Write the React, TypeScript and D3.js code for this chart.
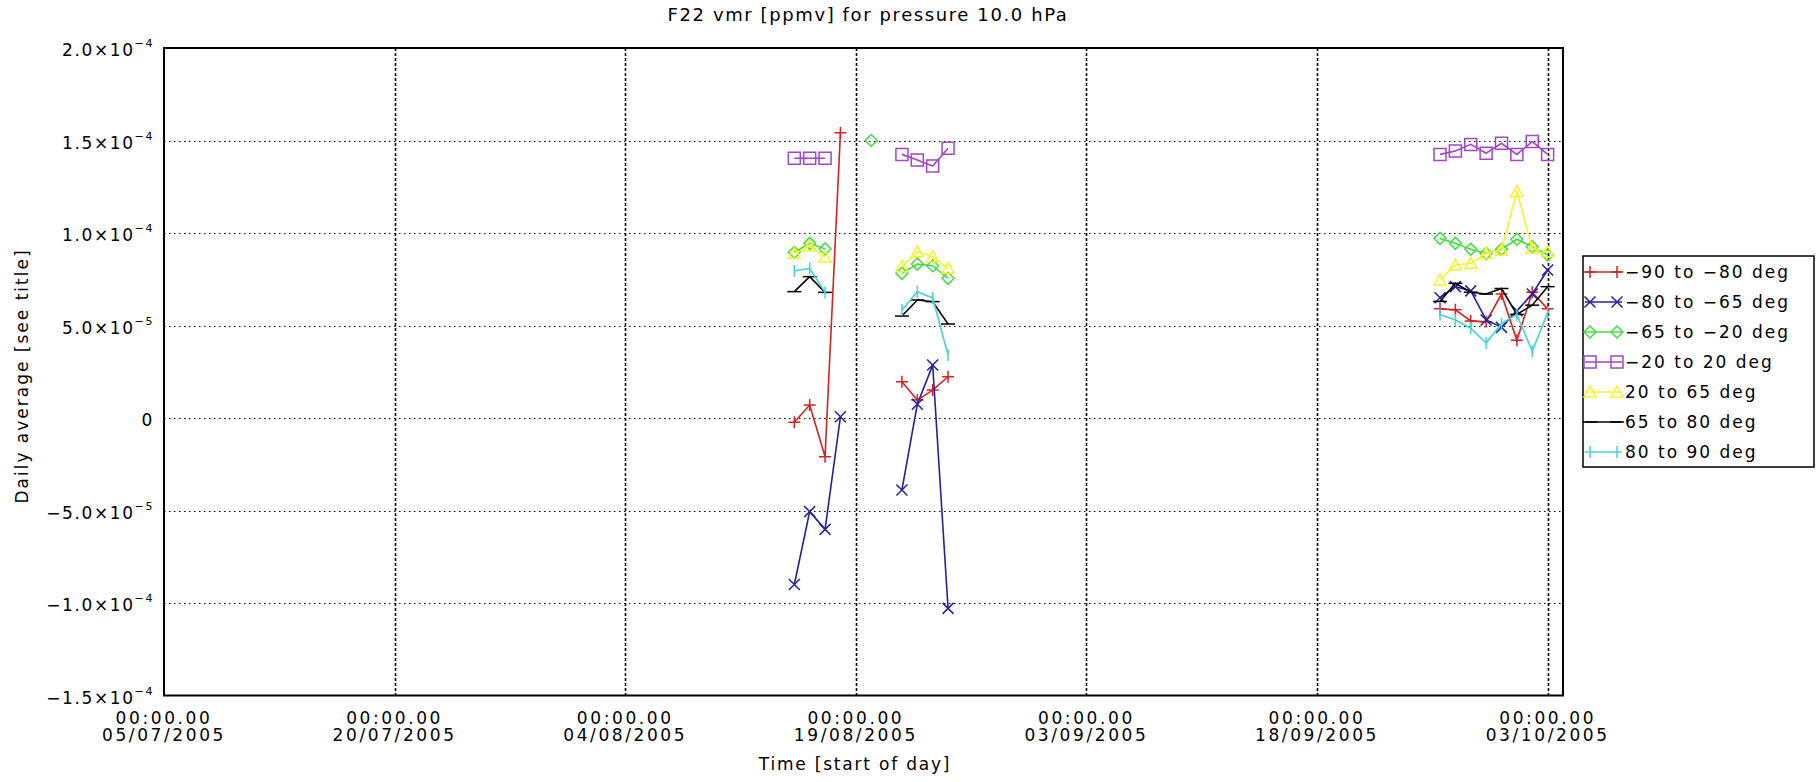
import { useEffect, useRef } from "react";
import * as d3 from "d3";

const W = 1816,
  H = 782;
const plot = { left: 164, top: 48, right: 1563, bottom: 695.5 };

// days that have data (lines break where a day is missing)
const days = [
  "2005-08-15", "2005-08-16", "2005-08-17", "2005-08-18", "2005-08-20",
  "2005-08-22", "2005-08-23", "2005-08-24", "2005-08-25",
  "2005-09-26", "2005-09-27", "2005-09-28", "2005-09-29", "2005-09-30",
  "2005-10-01", "2005-10-02", "2005-10-03",
];

// daily averages, ppmv
const lat90to80S = [-2.3e-6, 7.0e-6, -2.09e-5, 1.542e-4, null, 1.96e-5, 9.7e-6, 1.51e-5, 2.23e-5, 5.9e-5, 5.85e-5, 5.25e-5, 5.2e-5, 6.7e-5, 4.2e-5, 6.8e-5, 5.9e-5];
const lat80to65S = [-9.0e-5, -5.06e-5, -6.02e-5, 7e-7, null, -3.89e-5, 7.4e-6, 2.86e-5, -1.029e-4, 6.5e-5, 7.1e-5, 6.87e-5, 5.3e-5, 4.9e-5, 5.8e-5, 6.7e-5, 8.0e-5];
const lat65to20S = [8.96e-5, 9.44e-5, 9.14e-5, null, 1.5e-4, 7.82e-5, 8.32e-5, 8.23e-5, 7.55e-5, 9.71e-5, 9.44e-5, 9.12e-5, 8.9e-5, 9.12e-5, 9.66e-5, 9.26e-5, 8.81e-5];
const lat20Sto20N = [1.404e-4, 1.404e-4, 1.404e-4, null, null, 1.425e-4, 1.395e-4, 1.362e-4, 1.458e-4, 1.425e-4, 1.443e-4, 1.479e-4, 1.431e-4, 1.485e-4, 1.425e-4, 1.494e-4, 1.425e-4];
const lat20to65N = [8.9e-5, 9.3e-5, 8.7e-5, null, null, 8.18e-5, 8.99e-5, 8.72e-5, 8.09e-5, 7.46e-5, 8.27e-5, 8.36e-5, 8.9e-5, 9.08e-5, 1.225e-4, 9.17e-5, 8.99e-5];
const lat65to80N = [6.83e-5, 7.64e-5, 6.79e-5, null, null, 5.51e-5, 6.38e-5, 6.29e-5, 5.08e-5, 6.3e-5, 7.28e-5, 6.8e-5, 6.7e-5, 7.0e-5, 5.6e-5, 6.1e-5, 7.1e-5];
const lat80to90N = [7.95e-5, 8.09e-5, 6.79e-5, null, null, 5.84e-5, 6.83e-5, 6.49e-5, 3.4e-5, 5.6e-5, 5.3e-5, 4.85e-5, 4.05e-5, 5.1e-5, 5.6e-5, 3.6e-5, 5.7e-5];

const seriesNames = [
  "\u221290 to \u221280 deg",
  "\u221280 to \u221265 deg",
  "\u221265 to \u221220 deg",
  "\u221220 to 20 deg",
  "20 to 65 deg",
  "65 to 80 deg",
  "80 to 90 deg",
];
const seriesValues = [lat90to80S, lat80to65S, lat65to20S, lat20Sto20N, lat20to65N, lat65to80N, lat80to90N];
const seriesColors = ["#d42222", "#22229c", "#44dd44", "#a046c8", "#f4f42a", "#000000", "#44d4d4"];
const seriesSymbols = ["plus", "cross", "diamond", "square", "triangle", "hbar", "vbar"];

const yTickValues = [-1.5e-4, -1.0e-4, -5.0e-5, 0, 5.0e-5, 1.0e-4, 1.5e-4, 2.0e-4];
const yTickLabels = ["\u22121.5\u00d710^\u22124", "\u22121.0\u00d710^\u22124", "\u22125.0\u00d710^\u22125", "0", "5.0\u00d710^\u22125", "1.0\u00d710^\u22124", "1.5\u00d710^\u22124", "2.0\u00d710^\u22124"];
const xTickDates = ["2005-07-05", "2005-07-20", "2005-08-04", "2005-08-19", "2005-09-03", "2005-09-18", "2005-10-03"];
const xTickTime = "00:00.00";

const title = "F22 vmr [ppmv] for pressure 10.0 hPa";
const xTitle = "Time [start of day]";
const yTitle = "Daily average [see title]";

const FONT = "'DejaVu Sans', sans-serif";

const symbolPath = (kind: string) => {
  switch (kind) {
    case "plus":
      return "M-6,0H6M0,-6V6";
    case "cross":
      return "M-5.5,-5.5L5.5,5.5M-5.5,5.5L5.5,-5.5";
    case "diamond":
      return "M0,-6L6,0L0,6L-6,0Z";
    case "square":
      return "M-6,-6H6V6H-6Z";
    case "triangle":
      return "M0,-6L6,5H-6Z";
    case "hbar":
      return "M-7,0H7";
    default:
      return "M0,-6V6";
  }
};

const parse = (s: string) => new Date(s + "T00:00:00Z");

export default function App() {
  const svgRef = useRef<SVGSVGElement | null>(null);

  useEffect(() => {
    const svg = d3.select(svgRef.current);
    svg.selectAll("*").remove();

    const x = d3
      .scaleUtc()
      .domain([parse("2005-07-05"), parse("2005-10-04")])
      .range([plot.left, plot.right]);
    const y = d3.scaleLinear().domain([-1.5e-4, 2e-4]).range([plot.bottom, plot.top]);

    svg.append("rect").attr("width", W).attr("height", H).attr("fill", "#fff");

    // gridlines
    svg
      .append("g")
      .selectAll("line")
      .data(yTickValues.slice(1, -1))
      .join("line")
      .attr("x1", plot.left)
      .attr("x2", plot.right)
      .attr("y1", (d) => Math.round(y(d)) + 0.5)
      .attr("y2", (d) => Math.round(y(d)) + 0.5)
      .attr("stroke", "#000")
      .attr("stroke-width", 1.2)
      .attr("stroke-dasharray", "1.5,3.5");

    svg
      .append("g")
      .selectAll("line")
      .data(xTickDates.slice(1))
      .join("line")
      .attr("x1", (d) => Math.round(x(parse(d))) + 0.5)
      .attr("x2", (d) => Math.round(x(parse(d))) + 0.5)
      .attr("y1", plot.top)
      .attr("y2", plot.bottom)
      .attr("stroke", "#000")
      .attr("stroke-width", 1.6)
      .attr("stroke-dasharray", "3,2");

    // frame
    svg
      .append("rect")
      .attr("x", plot.left)
      .attr("y", plot.top)
      .attr("width", plot.right - plot.left)
      .attr("height", plot.bottom - plot.top)
      .attr("fill", "none")
      .attr("stroke", "#000")
      .attr("stroke-width", 2);

    // y tick labels
    const yLab = svg
      .append("g")
      .attr("font-family", FONT)
      .attr("font-size", 17)
      .selectAll("text")
      .data(yTickValues)
      .join("text")
      .attr("x", plot.left - 10)
      .attr("y", (d) => y(d) + 8)
      .attr("text-anchor", "end")
      .attr("letter-spacing", 1.6);
    yLab.each(function (_, i) {
      const [base, exp] = yTickLabels[i].split("^");
      const t = d3.select(this);
      t.append("tspan").text(base);
      if (exp) t.append("tspan").attr("font-size", 11).attr("dy", -9).text(exp);
    });

    // x tick labels
    const xLab = svg
      .append("g")
      .attr("font-family", FONT)
      .attr("font-size", 17)
      .attr("text-anchor", "middle")
      .attr("letter-spacing", 2.6)
      .selectAll("g")
      .data(xTickDates)
      .join("g")
      .attr("transform", (d) => `translate(${x(parse(d))},0)`);
    xLab.append("text").attr("y", 724).text(xTickTime);
    xLab
      .append("text")
      .attr("y", 741)
      .text((d) => d3.utcFormat("%d/%m/%Y")(parse(d)));

    // titles
    svg
      .append("text")
      .attr("x", 868)
      .attr("y", 21)
      .attr("text-anchor", "middle")
      .attr("font-family", FONT)
      .attr("font-size", 18)
      .attr("letter-spacing", 1.6)
      .text(title);
    svg
      .append("text")
      .attr("x", 855)
      .attr("y", 770)
      .attr("text-anchor", "middle")
      .attr("font-family", FONT)
      .attr("font-size", 17)
      .attr("letter-spacing", 1.8)
      .text(xTitle);
    svg
      .append("text")
      .attr("transform", "translate(28,376) rotate(-90)")
      .attr("text-anchor", "middle")
      .attr("font-family", FONT)
      .attr("font-size", 17)
      .attr("letter-spacing", 2)
      .text(yTitle);

    // series
    const line = d3
      .line<{ date: Date; v: number }>()
      .x((d) => x(d.date))
      .y((d) => y(d.v));
    const dayMs = 86400000;

    seriesValues.forEach((vals, si) => {
      const pts = days
        .map((d, i) => ({ date: parse(d), v: vals[i] as number | null }))
        .filter((p) => p.v !== null) as { date: Date; v: number }[];
      const segs: { date: Date; v: number }[][] = [];
      pts.forEach((p, i) => {
        if (i === 0 || p.date.getTime() - pts[i - 1].date.getTime() > dayMs) segs.push([]);
        segs[segs.length - 1].push(p);
      });
      const g = svg.append("g").attr("stroke", seriesColors[si]).attr("fill", "none");
      g.selectAll("path.seg")
        .data(segs.filter((s) => s.length > 1))
        .join("path")
        .attr("class", "seg")
        .attr("d", line)
        .attr("stroke-width", 1.6);
      g.selectAll("path.sym")
        .data(pts)
        .join("path")
        .attr("class", "sym")
        .attr("d", symbolPath(seriesSymbols[si]))
        .attr("transform", (d) => `translate(${x(d.date)},${y(d.v)})`)
        .attr("stroke-width", 1.5);
    });

    // legend
    const lg = svg.append("g");
    lg.append("rect")
      .attr("x", 1583)
      .attr("y", 256)
      .attr("width", 231)
      .attr("height", 211)
      .attr("fill", "#fff")
      .attr("stroke", "#000")
      .attr("stroke-width", 1.5);
    const rows = lg
      .selectAll("g")
      .data(seriesNames)
      .join("g")
      .attr("transform", (_, i) => `translate(0,${272 + i * 30})`);
    rows
      .append("line")
      .attr("x1", 1585)
      .attr("x2", 1622)
      .attr("stroke", (_, i) => seriesColors[i])
      .attr("stroke-width", 1.6);
    [1590, 1617].forEach((mx) => {
      rows
        .append("path")
        .attr("d", (_, i) => symbolPath(seriesSymbols[i]))
        .attr("transform", `translate(${mx},0)`)
        .attr("fill", "none")
        .attr("stroke", (_, i) => seriesColors[i])
        .attr("stroke-width", 1.5);
    });
    rows
      .append("text")
      .attr("x", 1625)
      .attr("y", 6)
      .attr("font-family", FONT)
      .attr("font-size", 17)
      .attr("letter-spacing", 2)
      .text((d) => d);
  }, []);

  return (
    <svg
      ref={svgRef}
      width={W}
      height={H}
      style={{ position: "absolute", left: 0, top: 0, display: "block" }}
    />
  );
}
